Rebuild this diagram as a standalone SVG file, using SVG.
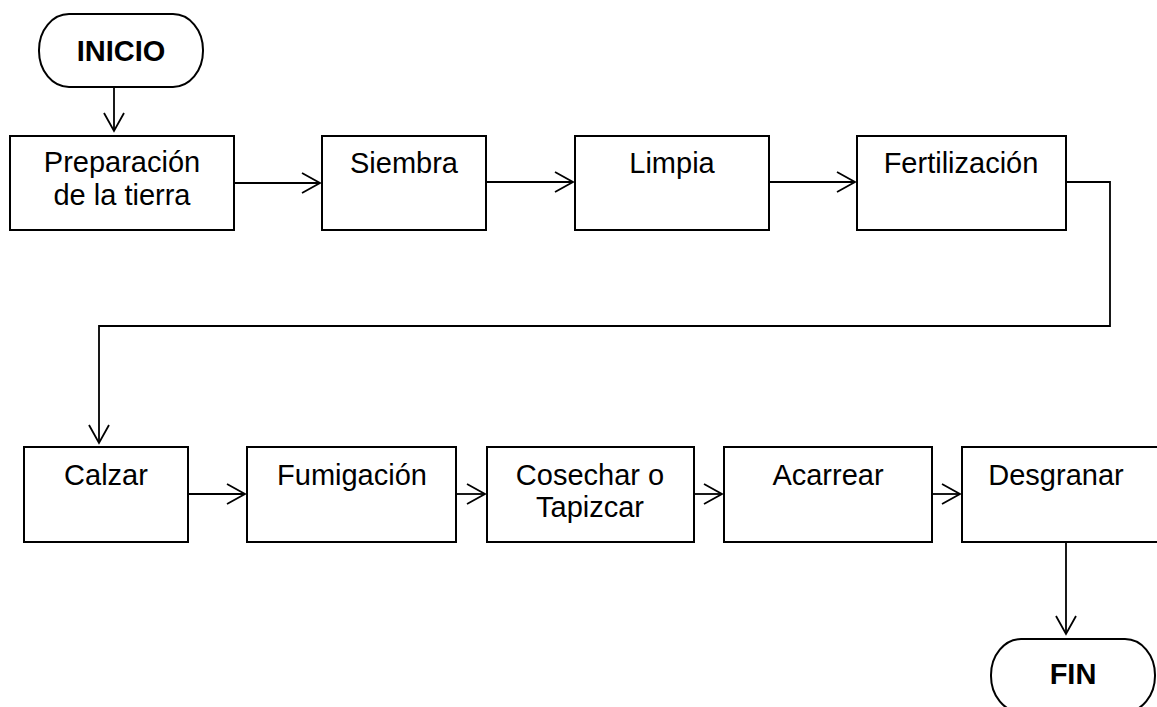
<svg xmlns="http://www.w3.org/2000/svg" width="1157" height="707" viewBox="0 0 1157 707">
<style>
.box{fill:#fff;stroke:#000;stroke-width:2}
.t{font-family:"Liberation Sans",Arial,sans-serif;font-size:29px;fill:#000;text-anchor:middle}
.b{font-weight:bold}
.c{fill:none;stroke:#000;stroke-width:1.8}
</style>
<defs>
<marker id="ah" markerWidth="22" markerHeight="24" refX="19" refY="11" orient="auto" markerUnits="userSpaceOnUse">
<path d="M1,1 L19,11 L1,21" fill="none" stroke="#000" stroke-width="1.8"/>
</marker>
</defs>
<rect width="1157" height="707" fill="#fff"/>
<g id="connectors">
<line class="c" x1="114" y1="87" x2="114" y2="131" marker-end="url(#ah)"/>
<line class="c" x1="234" y1="183" x2="320" y2="183" marker-end="url(#ah)"/>
<line class="c" x1="486" y1="182" x2="573" y2="182" marker-end="url(#ah)"/>
<line class="c" x1="769" y1="182" x2="855" y2="182" marker-end="url(#ah)"/>
<polyline class="c" points="1066,182 1110,182 1110,326 99,326 99,443" marker-end="url(#ah)"/>
<line class="c" x1="188" y1="494" x2="245" y2="494" marker-end="url(#ah)"/>
<line class="c" x1="456" y1="494" x2="485" y2="494" marker-end="url(#ah)"/>
<line class="c" x1="694" y1="494" x2="722" y2="494" marker-end="url(#ah)"/>
<line class="c" x1="932" y1="494" x2="960" y2="494" marker-end="url(#ah)"/>
<line class="c" x1="1066" y1="542" x2="1066" y2="634" marker-end="url(#ah)"/>
</g>
<g id="inicio">
<rect class="box" x="39" y="14" width="164" height="73" rx="30" ry="36"/>
<text class="t b" x="121" y="61">INICIO</text>
</g>
<g id="preparacion">
<rect class="box" x="10" y="136" width="224" height="94"/>
<text class="t" x="122" y="172">Preparación</text>
<text class="t" x="122" y="205">de la tierra</text>
</g>
<g id="siembra">
<rect class="box" x="322" y="136" width="164" height="94"/>
<text class="t" x="404" y="173">Siembra</text>
</g>
<g id="limpia">
<rect class="box" x="575" y="136" width="194" height="94"/>
<text class="t" x="672" y="173">Limpia</text>
</g>
<g id="fertilizacion">
<rect class="box" x="857" y="136" width="209" height="94"/>
<text class="t" x="961" y="173">Fertilización</text>
</g>
<g id="calzar">
<rect class="box" x="24" y="447" width="164" height="95"/>
<text class="t" x="106" y="485">Calzar</text>
</g>
<g id="fumigacion">
<rect class="box" x="247" y="447" width="209" height="95"/>
<text class="t" x="352" y="485">Fumigación</text>
</g>
<g id="cosechar">
<rect class="box" x="487" y="447" width="207" height="95"/>
<text class="t" x="590" y="485">Cosechar o</text>
<text class="t" x="590" y="517">Tapizcar</text>
</g>
<g id="acarrear">
<rect class="box" x="724" y="447" width="208" height="95"/>
<text class="t" x="828" y="485">Acarrear</text>
</g>
<g id="desgranar">
<rect class="box" x="962" y="447" width="210" height="95"/>
<text class="t" x="1056" y="485">Desgranar</text>
</g>
<g id="fin">
<rect class="box" x="991" y="639" width="164" height="73" rx="30" ry="36"/>
<text class="t b" x="1073" y="684">FIN</text>
</g>
</svg>
